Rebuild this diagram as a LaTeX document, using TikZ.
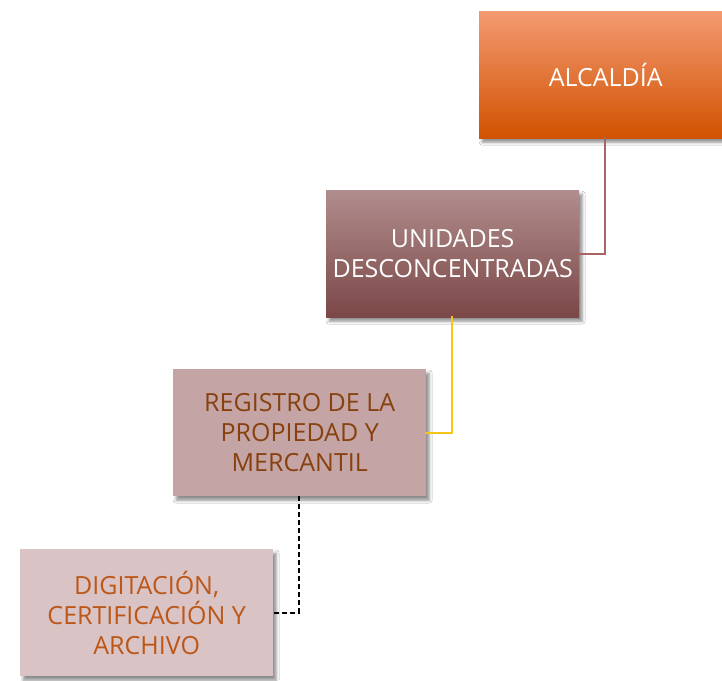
\documentclass[tikz,border=0pt]{standalone}
\usepackage{fontspec}
\setmainfont{Open Sans}
\usetikzlibrary{shadows.blur}
\definecolor{orgTop}{HTML}{F39A72}
\definecolor{orgBot}{HTML}{D15200}
\definecolor{wineTop}{HTML}{B18D8D}
\definecolor{wineBot}{HTML}{7B4747}
\definecolor{roseMid}{HTML}{C4A4A4}
\definecolor{roseLight}{HTML}{D9C3C4}
\definecolor{brownTxt}{HTML}{87410F}
\definecolor{rustTxt}{HTML}{BC5718}
\definecolor{wineLine}{HTML}{A86464}
\definecolor{goldLine}{HTML}{F5C518}
\tikzset{
  x=1pt, y=-1pt,
  unitbox/.style={rectangle, minimum width=253pt, minimum height=127pt,
    inner sep=0pt, align=center, font=\fontsize{25}{30}\selectfont,
    blur shadow={shadow xshift=3pt, shadow yshift=-4pt, shadow blur radius=3pt,
      shadow opacity=45}},
  link/.style={line width=2pt, line cap=rect}
}
\begin{document}
\begin{tikzpicture}
\useasboundingbox (0,0) rectangle (722,680);
\fill[white] (0,0) rectangle (722,680);
\begin{scope}
\clip (0,0) rectangle (722,680);
\node[unitbox, anchor=north west, top color=orgTop, bottom color=orgBot,
  text=white] (alc) at (479,11) {ALCALDÍA};
\end{scope}
\node[unitbox, anchor=north west, top color=wineTop, bottom color=wineBot,
  text=white] (udc) at (326,190) {UNIDADES\\DESCONCENTRADAS};
\node[unitbox, anchor=north west, fill=roseMid, text=brownTxt]
  (reg) at (173,369) {REGISTRO DE LA\\PROPIEDAD Y\\MERCANTIL};
\node[unitbox, anchor=north west, fill=roseLight, text=rustTxt]
  (dig) at (20,549) {DIGITACIÓN,\\CERTIFICACIÓN Y\\ARCHIVO};
% elbow connectors: bottom of the parent, then into the child's right side
\draw[link, wineLine] (alc.south -| 605,0) |- (udc.east);
\draw[link, goldLine] (udc.south -| 452,0) |- (reg.east);
\draw[link, black, line cap=butt, dash pattern=on 5pt off 3pt]
  (reg.south -| 299,0) |- (dig.east);
\end{tikzpicture}
\end{document}
